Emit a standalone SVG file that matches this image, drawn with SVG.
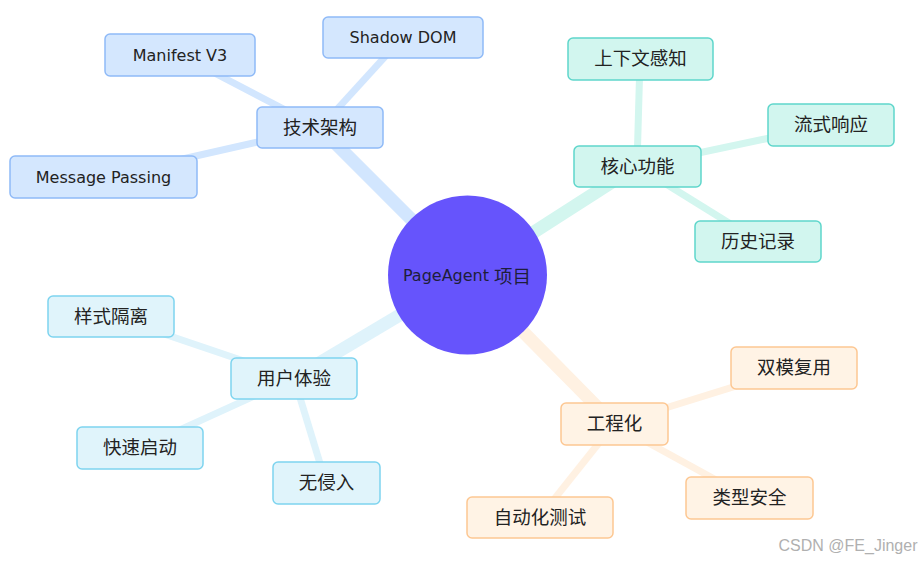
<svg xmlns="http://www.w3.org/2000/svg" width="921" height="561" viewBox="0 0 921 561">
<style>
text{font-family:"DejaVu Sans","Noto Sans CJK SC",sans-serif;font-size:16px;fill:#222;text-anchor:middle;dominant-baseline:central}
text.z,tspan.z{font-family:"Noto Sans CJK SC","DejaVu Sans",sans-serif;font-size:18.5px}
.n rect{rx:5;ry:5;stroke-width:1.5}
.b rect{fill:#d4e7fe;stroke:#8fbaf7}
.t rect{fill:#d2f6ef;stroke:#5fd6cb}
.c rect{fill:#e0f4fb;stroke:#7ed4ef}
.o rect{fill:#fff3e5;stroke:#fdc792}
.e{stroke-linecap:butt;fill:none}
.eb{stroke:#d2e6fe}.et{stroke:#d3f6ef}.ec{stroke:#dff3fb}.eo{stroke:#fff1e2}
.r{stroke-width:13}.l{stroke-width:7}
</style>
<rect width="921" height="561" fill="#fff"/>
<g id="connectors">
<line class="e eb r" x1="467" y1="275" x2="320" y2="128"/>
<line class="e eb l" x1="320" y1="128" x2="180" y2="55"/>
<line class="e eb l" x1="320" y1="128" x2="403" y2="37"/>
<line class="e eb l" x1="320" y1="128" x2="103" y2="177"/>
<line class="e et r" x1="467" y1="275" x2="637" y2="166"/>
<line class="e et l" x1="637" y1="166" x2="640" y2="59"/>
<line class="e et l" x1="637" y1="166" x2="831" y2="125"/>
<line class="e et l" x1="637" y1="166" x2="758" y2="241"/>
<line class="e ec r" x1="467" y1="275" x2="294" y2="378"/>
<line class="e ec l" x1="294" y1="378" x2="111" y2="316"/>
<line class="e ec l" x1="294" y1="378" x2="140" y2="448"/>
<line class="e ec l" x1="294" y1="378" x2="326" y2="483"/>
<line class="e eo r" x1="467" y1="275" x2="614" y2="424"/>
<line class="e eo l" x1="614" y1="424" x2="794" y2="368"/>
<line class="e eo l" x1="614" y1="424" x2="749" y2="498"/>
<line class="e eo l" x1="614" y1="424" x2="540" y2="517"/>
</g>
<g id="root"><circle cx="467.5" cy="275" r="79.5" fill="#6654fc"/><text x="467" y="275" style="fill:#1e1e3a">PageAgent <tspan class="z">项目</tspan></text></g>
<g id="n-arch" class="n b"><rect x="257" y="107" width="126" height="41"/><text class="z" x="320" y="126">技术架构</text></g>
<g id="n-manifest" class="n b"><rect x="105" y="34" width="150" height="42"/><text x="180" y="55">Manifest V3</text></g>
<g id="n-shadow" class="n b"><rect x="323" y="17" width="160" height="41"/><text x="403" y="37.5">Shadow DOM</text></g>
<g id="n-msg" class="n b"><rect x="10" y="156" width="187" height="42"/><text x="103.5" y="177">Message Passing</text></g>
<g id="n-core" class="n t"><rect x="574" y="146" width="127" height="41"/><text class="z" x="637.5" y="164.5">核心功能</text></g>
<g id="n-ctx" class="n t"><rect x="568" y="38" width="145" height="42"/><text class="z" x="640.5" y="57">上下文感知</text></g>
<g id="n-stream" class="n t"><rect x="768" y="104" width="126" height="42"/><text class="z" x="831" y="123">流式响应</text></g>
<g id="n-hist" class="n t"><rect x="695" y="221" width="126" height="41"/><text class="z" x="758" y="239.5">历史记录</text></g>
<g id="n-ux" class="n c"><rect x="231" y="358" width="126" height="41"/><text class="z" x="294" y="376.5">用户体验</text></g>
<g id="n-style" class="n c"><rect x="48" y="296" width="126" height="41"/><text class="z" x="111" y="314.5">样式隔离</text></g>
<g id="n-fast" class="n c"><rect x="77" y="427" width="126" height="42"/><text class="z" x="140" y="446">快速启动</text></g>
<g id="n-noinv" class="n c"><rect x="273" y="462" width="107" height="42"/><text class="z" x="326.5" y="481">无侵入</text></g>
<g id="n-eng" class="n o"><rect x="561" y="403" width="107" height="42"/><text class="z" x="614.5" y="422">工程化</text></g>
<g id="n-dual" class="n o"><rect x="731" y="347" width="126" height="42"/><text class="z" x="794" y="366">双模复用</text></g>
<g id="n-type" class="n o"><rect x="686" y="477" width="127" height="42"/><text class="z" x="749.5" y="496">类型安全</text></g>
<g id="n-auto" class="n o"><rect x="467" y="497" width="146" height="41"/><text class="z" x="540" y="515.5">自动化测试</text></g>
<text x="848" y="545" style="font-family:'Liberation Sans',Arial,sans-serif;font-size:16px;fill:#b0b0b0">CSDN @FE_Jinger</text>
</svg>
